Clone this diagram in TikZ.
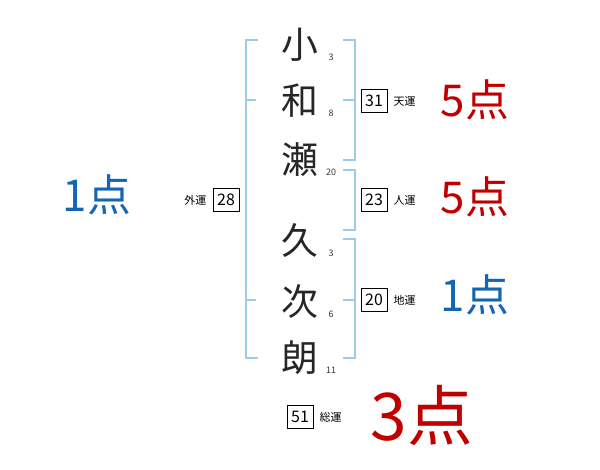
\documentclass[tikz,border=0pt]{standalone}
\usepackage{fontspec}
\setmainfont{Noto Sans CJK JP}
\usetikzlibrary{positioning}
\definecolor{brk}{HTML}{9DCBEA}
\definecolor{ptred}{HTML}{C00000}
\definecolor{ptblue}{HTML}{1565B5}

\begin{document}
\begin{tikzpicture}[
  x=1bp, y=-1bp,
  kanji/.style={font=\fontsize{37}{37}\selectfont, text=black!85},
  stroke/.style={font=\fontsize{9}{9}\selectfont, text=black!80},
  numbox/.style={
    draw, minimum width=26bp, minimum height=23bp, inner sep=1pt,
    font=\fontsize{16}{16}\selectfont,
  },
  unlbl/.style={font=\fontsize{11}{11}\selectfont},
  score/.style={font=\fontsize{44}{44}\selectfont},
  brack/.style={draw=brk, line width=1.6pt},
]
\useasboundingbox (0,0) rectangle (600,470);
% name characters with stroke counts
\foreach \c/\n/\y [count=\i] in {小/3/45, 和/8/101, 瀬/20/160, 久/3/241, 次/6/302, 朗/11/358} {
  \node[kanji] (k\i) at (300,\y) {\c};
  \node[stroke] (s\i) at (331,\y+12) {\n};
}
% brackets
\draw[brack] (258,40) -- (246,40) -- (246,358) -- (258,358);
\draw[brack] (246,100) -- (256,100);
\draw[brack] (246,300) -- (256,300);
\draw[brack] (343,40) -- (355,40) -- (355,160) -- (343,160);
\draw[brack] (343,100) -- (355,100);
\draw[brack] (343,170) -- (355,170) -- (355,230) -- (343,230);
\draw[brack] (343,239) -- (355,239) -- (355,358) -- (343,358);
\draw[brack] (343,300) -- (355,300);
% fortune boxes
\node[numbox] (ten) at (374,101) {31};
\node[unlbl, right=3pt of ten] (tenl) {天運};
\node[numbox] (jin) at (374,200) {23};
\node[unlbl, right=3pt of jin] (jinl) {人運};
\node[numbox] (chi) at (374,300) {20};
\node[unlbl, right=3pt of chi] (chil) {地運};
\node[numbox] (gai) at (226,200) {28};
\node[unlbl, left=3pt of gai] (gail) {外運};
\node[numbox] (sou) at (300,417) {51};
\node[unlbl, right=3pt of sou] (soul) {総運};
% scores
\node[score, text=ptred] (p1) at (475,100) {5点};
\node[score, text=ptred] (p2) at (475,197) {5点};
\node[score, text=ptblue] (p3) at (475,295) {1点};
\node[score, text=ptblue] (p4) at (97,195) {1点};
\node[score, text=ptred, font=\fontsize{66}{66}\selectfont] (p5) at (422,415) {3点};
\end{tikzpicture}
\end{document}
